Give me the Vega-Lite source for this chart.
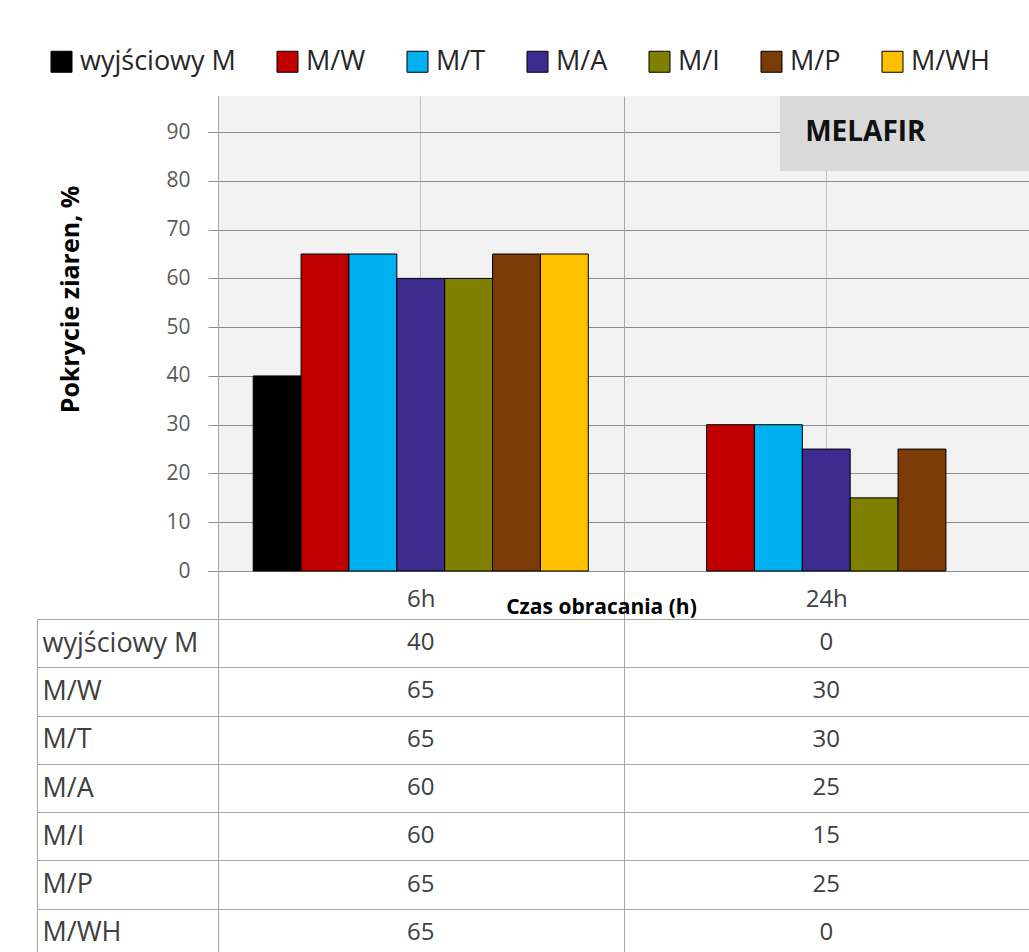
{
  "$schema": "https://vega.github.io/schema/vega-lite/v6.json",
  "padding": {"left": 36, "top": 48, "right": 0, "bottom": 0},
  "background": "white",
  "config": {"font": "Open Sans", "view": {"stroke": null}},
  "datasets": {
    "d": [
      {"czas": "6h", "seria": "wyjściowy M", "wartosc": 40},
      {"czas": "6h", "seria": "M/W", "wartosc": 65},
      {"czas": "6h", "seria": "M/T", "wartosc": 65},
      {"czas": "6h", "seria": "M/A", "wartosc": 60},
      {"czas": "6h", "seria": "M/I", "wartosc": 60},
      {"czas": "6h", "seria": "M/P", "wartosc": 65},
      {"czas": "6h", "seria": "M/WH", "wartosc": 65},
      {"czas": "24h", "seria": "wyjściowy M", "wartosc": 0},
      {"czas": "24h", "seria": "M/W", "wartosc": 30},
      {"czas": "24h", "seria": "M/T", "wartosc": 30},
      {"czas": "24h", "seria": "M/A", "wartosc": 25},
      {"czas": "24h", "seria": "M/I", "wartosc": 15},
      {"czas": "24h", "seria": "M/P", "wartosc": 25},
      {"czas": "24h", "seria": "M/WH", "wartosc": 0}
    ]
  },
  "spacing": 48,
  "bounds": "flush",
  "vconcat": [
    {
      "width": 811,
      "height": 475,
      "view": {"fill": "#f2f2f2", "stroke": null},
      "layer": [
        {
          "data": {"name": "d"},
          "transform": [{"filter": "datum.wartosc > 0"}],
          "mark": {"type": "bar", "stroke": "#000000", "strokeWidth": 1},
          "encoding": {
            "x": {
              "field": "czas", "type": "nominal", "sort": ["6h", "24h"],
              "scale": {"padding": 0},
              "axis": {"labels": false, "ticks": false, "domain": false, "title": null, "grid": true, "gridColor": "#c0c0c0", "gridWidth": 1}
            },
            "xOffset": {
              "field": "seria", "type": "nominal",
              "sort": ["wyjściowy M", "M/W", "M/T", "M/A", "M/I", "M/P", "M/WH"],
              "scale": {"domain": ["wyjściowy M", "M/W", "M/T", "M/A", "M/I", "M/P", "M/WH"], "paddingInner": 0, "paddingOuter": 0.735}
            },
            "y": {
              "field": "wartosc", "type": "quantitative", "title": "Pokrycie ziaren, %",
              "scale": {"domain": [0, 97.4], "nice": false},
              "axis": {
                "values": [0, 10, 20, 30, 40, 50, 60, 70, 80, 90],
                "grid": true, "gridColor": "#8c8c8c", "tickSize": 10, "tickColor": "#8c8c8c", "domainColor": "#8c8c8c",
                "labelFontSize": 21, "labelColor": "#5a5a5a", "labelPadding": 18,
                "titleFontSize": 25, "titleFontWeight": "bold", "titleColor": "#000000",
                "titleX": -148, "titleY": 203, "titleAngle": 270, "titleBaseline": "middle", "titleAlign": "center"
              }
            },
            "color": {
              "field": "seria", "type": "nominal",
              "scale": {
                "domain": ["wyjściowy M", "M/W", "M/T", "M/A", "M/I", "M/P", "M/WH"],
                "range": ["#000000", "#c00000", "#00b0f0", "#3d2c8d", "#7f7f00", "#7a3b07", "#ffc000"]
              },
              "legend": {
                "orient": "none", "legendX": -170, "legendY": -48, "direction": "horizontal", "title": null,
                "symbolType": "square", "symbolSize": 441, "symbolStrokeColor": "#000000", "symbolStrokeWidth": 1,
                "labelFontSize": 27, "labelColor": "#262626", "labelLimit": 400, "columnPadding": 38, "labelOffset": 5
              }
            }
          }
        },
        {
          "data": {"values": [{}]},
          "mark": {"type": "rect", "fill": "#d9d9d9"},
          "encoding": {
            "x": {"datum": 0.693, "type": "quantitative", "scale": {"domain": [0, 1]}, "axis": null},
            "x2": {"datum": 1},
            "y": {"datum": 82, "type": "quantitative", "title": "Pokrycie ziaren, %"},
            "y2": {"datum": 97.4}
          }
        },
        {
          "data": {"values": [{}]},
          "mark": {"type": "text", "text": "MELAFIR", "align": "left", "baseline": "middle", "fontSize": 28, "fontWeight": "bold", "color": "#111111"},
          "encoding": {
            "x": {"datum": 0.724, "type": "quantitative", "scale": {"domain": [0, 1]}, "axis": null},
            "y": {"datum": 89.8, "type": "quantitative", "title": "Pokrycie ziaren, %"}
          }
        }
      ],
      "resolve": {"scale": {"x": "independent"}}
    },
    {
      "width": 811,
      "height": 338,
      "data": {"name": "d"},
      "mark": {"type": "text", "fontSize": 24, "color": "#404040"},
      "encoding": {
        "x": {
          "field": "czas", "type": "nominal", "sort": ["6h", "24h"],
          "scale": {"padding": 0},
          "axis": {
            "orient": "top", "tickBand": "extent", "ticks": true, "tickSize": 523, "tickColor": "#a6a6a6",
            "grid": true, "gridColor": "#a6a6a6", "domain": false,
            "labelAngle": 0, "labelFontSize": 24, "labelColor": "#404040", "labelPadding": -503, "labelBaseline": "middle",
            "title": "Czas obracania (h)", "titleFontSize": 21, "titleFontWeight": "bold", "titleColor": "#000000",
            "titleX": 383, "titleY": -12, "titleBaseline": "middle", "titleAlign": "center", "titleAngle": 0
          }
        },
        "y": {
          "field": "seria", "type": "nominal",
          "sort": ["wyjściowy M", "M/W", "M/T", "M/A", "M/I", "M/P", "M/WH"],
          "scale": {"padding": 0},
          "axis": {
            "orient": "left", "offset": 181, "tickBand": "extent", "tickSize": -181, "tickColor": "#a6a6a6",
            "grid": true, "gridColor": "#a6a6a6", "domainColor": "#a6a6a6",
            "labelAlign": "left", "labelPadding": 176, "labelFontSize": 27, "labelColor": "#404040", "labelLimit": 400,
            "title": null
          }
        },
        "text": {"field": "wartosc", "type": "quantitative"}
      }
    }
  ]
}
